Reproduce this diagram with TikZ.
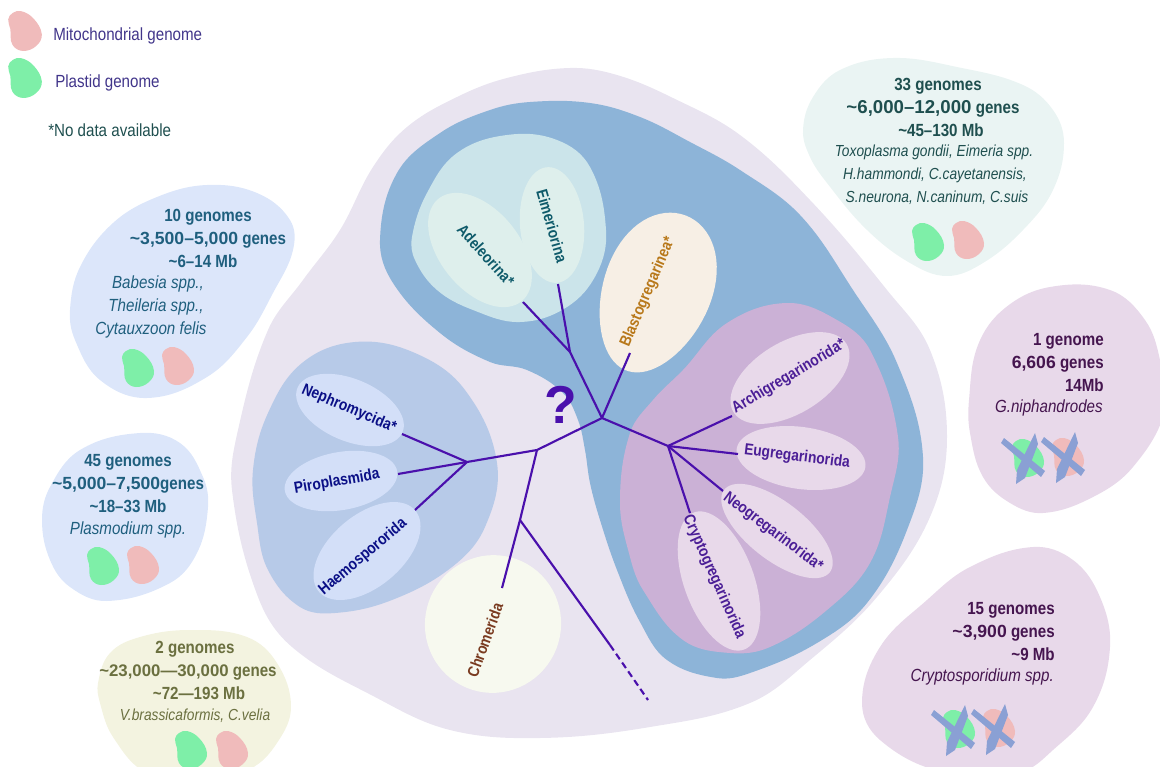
\documentclass[tikz,border=0pt]{standalone}
\usepackage{fontspec}
\setmainfont[FakeStretch=0.86]{Liberation Sans}
\newfontfamily\widefont{Liberation Sans}
\newcommand{\num}[1]{{\widefont\bfseries #1}}
\definecolor{outerc}{HTML}{E9E4F0}
\definecolor{bluec}{HTML}{8DB4D8}
\definecolor{purplec}{HTML}{CBB1D6}
\definecolor{tealc}{HTML}{CBE4EA}
\definecolor{tealin}{HTML}{DEEFEC}
\definecolor{creamc}{HTML}{F7EFE5}
\definecolor{leftc}{HTML}{B7CAE8}
\definecolor{leftin}{HTML}{D3DFF8}
\definecolor{chromc}{HTML}{F7F9EF}
\definecolor{purplein}{HTML}{E8D9EA}
\definecolor{trc}{HTML}{EAF4F3}
\definecolor{lbluec}{HTML}{DCE6FA}
\definecolor{olivec}{HTML}{F3F3E0}
\definecolor{mitoc}{HTML}{F0BBBB}
\definecolor{plastc}{HTML}{7EEFA8}
\definecolor{crossc}{HTML}{8AA0D4}
\definecolor{treec}{HTML}{4A10AC}
\definecolor{ttblue}{HTML}{1F5F7E}
\definecolor{ttolive}{HTML}{6B7040}
\definecolor{ttgreen}{HTML}{1F4F4F}
\definecolor{ttpurple}{HTML}{45154F}
\definecolor{ttlegend}{HTML}{41358A}
\definecolor{lbteal}{HTML}{0E5A6A}
\definecolor{lbgold}{HTML}{B8781A}
\definecolor{lbpurple}{HTML}{4B1E96}
\definecolor{lbnavy}{HTML}{0A0F86}
\definecolor{lbbrown}{HTML}{7A3B20}
\newcount\blobn
\newcommand\myblob[2]{%
  \gdef\xlist{}\gdef\ylist{}\global\blobn=0
  \foreach \p/\q in {#2}{%
    \ifnum\blobn=0 \xdef\xlist{\p}\xdef\ylist{\q}\else\xdef\xlist{\xlist,\p}\xdef\ylist{\ylist,\q}\fi
    \global\advance\blobn by 1 }%
  \xdef\xarr{{\xlist}}\xdef\yarr{{\ylist}}%
  \gdef\blobpath{}%
  \edef\blobtot{\the\blobn}%
  \pgfmathtruncatemacro\blobmax{\blobtot-1}%
  \foreach \i in {0,...,\blobmax}{%
    \pgfmathtruncatemacro\im{mod(\i+\blobtot-1,\blobtot)}%
    \pgfmathtruncatemacro\ip{mod(\i+1,\blobtot)}%
    \pgfmathtruncatemacro\ipp{mod(\i+2,\blobtot)}%
    \pgfmathsetmacro\xa{\xarr[\i]}\pgfmathsetmacro\ya{\yarr[\i]}%
    \pgfmathsetmacro\xb{\xarr[\ip]}\pgfmathsetmacro\yb{\yarr[\ip]}%
    \pgfmathsetmacro\xm{\xarr[\im]}\pgfmathsetmacro\ym{\yarr[\im]}%
    \pgfmathsetmacro\xc{\xarr[\ipp]}\pgfmathsetmacro\yc{\yarr[\ipp]}%
    \pgfmathsetmacro\lenA{veclen(\xb-\xm,\yb-\ym)}%
    \pgfmathsetmacro\lenB{veclen(\xc-\xa,\yc-\ya)}%
    \pgfmathsetmacro\lenS{veclen(\xb-\xa,\yb-\ya)}%
    \pgfmathsetmacro\cax{\xa+0.36*\lenS*(\xb-\xm)/\lenA}%
    \pgfmathsetmacro\cay{\ya+0.36*\lenS*(\yb-\ym)/\lenA}%
    \pgfmathsetmacro\cbx{\xb-0.36*\lenS*(\xc-\xa)/\lenB}%
    \pgfmathsetmacro\cby{\yb-0.36*\lenS*(\yc-\ya)/\lenB}%
    \xdef\blobpath{\blobpath .. controls (\cax,\cay) and (\cbx,\cby) .. (\xb,\yb)}%
  }%
  \pgfmathsetmacro\xs{\xarr[0]}\pgfmathsetmacro\ys{\yarr[0]}%
  \edef\blobcmd{\noexpand\fill[#1] (\xs,\ys) \blobpath -- cycle;}\blobcmd
}
\newcommand\myegg[7]{\fill[#1,shift={(#2,#3)},rotate=#6] plot[domain=0:360,samples=72] ({#4*cos(\x)},{#5*sin(\x)*(1+#7*cos(\x))}) -- cycle;}
\tikzset{
  taxon/.style={font=\bfseries\fontsize{12}{14}\selectfont,text=#1,inner sep=0pt},
  stats/.style={font=\bfseries\fontsize{13.2}{17.25}\selectfont,text=#1,align=center,inner sep=0pt},
  species/.style={font=\itshape\fontsize{13.2}{17.25}\selectfont,text=#1,align=center,inner sep=0pt},
  legendtext/.style={font=\fontsize{13.2}{15}\selectfont,text=#1,inner sep=0pt,anchor=west},
  branch/.style={draw=treec,line width=1.6pt},
  pics/bean/.style={code={\myblob{#1}{-4/-19,8/-12,16/3,11/14,-2/19,-12/13,-14/-2,-16/-11,-12/-17}}},
  pics/nogo/.style={code={\fill[crossc] (-24,-15)--(-21,-20)--(20,13)--(16,19)--cycle;
    \fill[crossc] (10,-25)--(13,-14)--(0,20)--(-9,26)--(-8,12)--cycle;}}
}
\begin{document}
\begin{tikzpicture}[x=0.75pt,y=-0.75pt]
\useasboundingbox (0,0) rectangle (1160,767);
% large regions
\myblob{outerc}{570/68,617/75,673/98,740/135,810/200,887/290,930/350,947/437,930/517,877/597,810/660,750/703,650/727,540/738,450/730,375/697,292/647,258/597,232/490,238/430,268/330,303/280,340/230,373/167,407/127,457/97,507/78}
\myblob{bluec}{530/102,590/103,640/117,690/142,740/170,800/215,853/290,897/363,923/457,907/530,867/603,817/643,750/673,717/678,667/660,640/622,617/570,600/520,590/483,585/450,578/420,563/393,527/370,490/362,440/333,393/283,380/240,397/173,440/133,490/110}
\myblob{purplec}{620/503,630/433,653/400,683/370,727/323,787/303,837/320,870/350,898/437,890/497,870/563,827/610,770/647,730/653,683/640,643/590,630/557}
\myblob{tealc}{412/237,427/193,457/153,507/135,557/140,590/167,606/230,597/273,567/307,520/322,473/310,437/290,415/260}
\myblob{leftc}{253/470,268/413,302/363,355/342,415/353,465/390,497/463,485/527,452/567,392/600,335/613,300/607,268/570,257/523}
% clade blobs
\myegg{tealin}{480}{250}{66}{40}{-51}{0}
\myegg{tealin}{552}{225}{58}{32}{-85}{0}
\myegg{creamc}{656}{293}{83}{54}{69}{.1}
\myegg{chromc}{493}{624}{69}{68}{70}{0}
\myegg{leftin}{350}{410}{57}{31}{-23}{0}
\myegg{leftin}{341}{481}{57}{29}{10}{0}
\myegg{leftin}{367}{551}{63}{36}{40}{0}
\myegg{purplein}{790}{378}{66}{36}{31}{0}
\myegg{purplein}{801}{458}{65}{31}{-8}{0}
\myegg{purplein}{777}{531}{67}{29}{-38}{0}
\myegg{purplein}{719}{581}{73}{35}{-70}{0}
% side blobs
\myblob{trc}{803/130,813/97,840/70,893/58,957/67,1023/85,1053/110,1064/143,1053/190,1023/230,983/263,947/276,910/263,867/230,827/183,810/157}
\myblob{purplein}{969/400,978/345,1005/308,1050/287,1110/290,1145/320,1160/360,1165/410,1133/467,1093/497,1043/513,1010/503,983/477,970/433}
\myblob{purplein}{862/703,880/647,927/600,970/567,1033/547,1073/560,1100/597,1110/647,1093/707,1053/750,1020/772,943/772,880/740}
\myblob{lbluec}{207/185,257/193,290/220,293/250,273/293,247/337,207/377,147/398,100/380,75/340,70/310,80/267,113/223,157/197}
\myblob{lbluec}{42/520,50/487,80/450,140/433,180/443,203/477,208/507,197/553,170/583,107/601,70/587,50/560}
\myblob{olivec}{98/683,110/653,140/637,190/630,247/637,277/663,291/707,277/743,250/769,203/780,147/773,113/737,100/703}
% taxa labels
\node[taxon=lbteal,rotate=-48] (adel) at (486,255) {Adeleorina*};
\node[taxon=lbteal,rotate=-74] (eime) at (552,226) {Eimeriorina};
\node[taxon=lbgold,rotate=67] (blas) at (648,292) {Blastogregarinea*};
\node[taxon=lbpurple,rotate=31] (arch) at (789,377) {Archigregarinorida*};
\node[taxon=lbpurple,rotate=-7] (euge) at (797,457) {Eugregarinorida};
\node[taxon=lbpurple,rotate=-37] (neog) at (773,532) {Neogregarinorida*};
\node[taxon=lbpurple,rotate=-66] (cryp) at (714,577) {Cryptogregarinorida};
\node[taxon=lbnavy,rotate=-23] (neph) at (349,409) {Nephromycida*};
\node[taxon=lbnavy,rotate=10] (piro) at (337,482) {Piroplasmida};
\node[taxon=lbnavy,rotate=40] (haem) at (363,557) {Haemospororida};
\node[taxon=lbbrown,rotate=70] (chro) at (485,640) {Chromerida};
\node[font=\bfseries\fontsize{40}{40}\selectfont,text=treec,inner sep=0pt] (q) at (561,405) {\widefont ?};
% tree
\coordinate (root) at (602,418);
\coordinate (a) at (537,450);
\coordinate (b) at (467,462);
\coordinate (c) at (520,520);
\coordinate (d) at (668,446);
\coordinate (e) at (570,352);
\coordinate (tchro) at (502,588);
\coordinate (tsol) at (610,645);
\coordinate (tdash) at (648,700);
\coordinate (tarch) at (732,416);
\coordinate (teuge) at (738,454);
\coordinate (tneog) at (723,491);
\coordinate (tcryp) at (690,513);
\coordinate (tblas) at (630,353);
\coordinate (teime) at (558,284);
\coordinate (tadel) at (523,302);
\coordinate (tneph) at (402,434);
\coordinate (tpiro) at (398,474);
\coordinate (thaem) at (415,510);
\draw[branch] (tblas)--(root)--(a)--(b);
\draw[branch] (root)--(e)--(teime);
\draw[branch] (e)--(tadel);
\draw[branch] (a)--(c)--(tchro);
\draw[branch] (c)--(tsol);
\draw[branch,dash pattern=on 5pt off 3pt] (tsol)--(tdash);
\draw[branch] (root)--(d)--(tarch);
\draw[branch] (d)--(teuge);
\draw[branch] (d)--(tneog);
\draw[branch] (d)--(tcryp);
\draw[branch] (b)--(tneph);
\draw[branch] (b)--(tpiro);
\draw[branch] (b)--(thaem);
% legend
\pic[scale=1.05] at (25,31) {bean=mitoc};
\pic[scale=1.05] at (25,78) {bean=plastc};
\node[legendtext=ttlegend] (l1) at (53,36) {Mitochondrial genome};
\node[legendtext=ttlegend] (l2) at (55,83) {Plastid genome};
\node[legendtext=ttgreen] (l3) at (48,130) {*No data available};
% info texts
\node[stats=ttblue] (s1) at (208,238) {10 genomes\\\num{\textasciitilde 3,500–5,000} genes\\\textasciitilde 6–14 Mb\hspace*{7.5pt}\mbox{}};
\node[species=ttblue] (p1) at (151,307) {\hspace*{10.5pt}Babesia spp.,\\\hspace*{7.5pt}Theileria spp.,\\Cytauxzoon felis};
\pic at (138,368) {bean=plastc};
\pic at (178,366) {bean=mitoc};
\node[stats=ttblue] (s2) at (128,484) {45 genomes\\\num{\textasciitilde 5,000–7,500}genes\\\textasciitilde 18–33 Mb};
\node[species=ttblue] (p2) at (128,530) {Plasmodium spp.};
\pic at (103,566) {bean=plastc};
\pic at (143,565) {bean=mitoc};
\node[stats=ttolive] (s3) at (188,670) {\hspace*{10.5pt}2 genomes\\{\widefont\bfseries\fontsize{12.6}{17.25}\selectfont \textasciitilde 23,000—30,000} genes\\\hspace*{16.5pt}\textasciitilde 72—193 Mb};
\node[species=ttolive,font=\itshape\fontsize{12}{14}\selectfont] (p3) at (195,716) {V.brassicaformis, C.velia};
\pic at (191,750) {bean=plastc};
\pic at (232,750) {bean=mitoc};
\node[stats=ttgreen] (s4) at (933,107) {\hspace*{7.5pt}33 genomes\\{\widefont\bfseries\fontsize{14}{17.25}\selectfont \textasciitilde 6,000–12,000} genes\\\hspace*{12pt}\textasciitilde 45–130 Mb};
\node[species=ttgreen,font=\itshape\fontsize{12}{17.25}\selectfont] (p4) at (934,175) {Toxoplasma gondii, Eimeria spp.\\\hspace*{1.5pt}H.hammondi, C.cayetanensis,\\\hspace*{4.5pt}S.neurona, N.caninum, C.suis};
\pic at (928,242) {bean=plastc};
\pic at (968,240) {bean=mitoc};
\node[stats=ttpurple,align=right,anchor=north east] (s5) at (1104,333) {1 genome\\\num{6,606} genes\\14Mb};
\node[species=ttpurple,anchor=east] (p5) at (1103,408) {G.niphandrodes};
\pic at (1028,458) {bean=plastc};
\pic at (1068,457) {bean=mitoc};
\pic at (1025,458) {nogo};
\pic at (1065,457) {nogo};
\node[stats=ttpurple,align=right,anchor=north east] (s6) at (1055,602) {15 genomes\\\num{\textasciitilde 3,900} genes\\\textasciitilde 9 Mb};
\node[species=ttpurple,anchor=east] (p6) at (1054,677) {Cryptosporidium spp.};
\pic at (959,729) {bean=plastc};
\pic at (999,728) {bean=mitoc};
\pic at (955,730) {nogo};
\pic at (995,729) {nogo};
\end{tikzpicture}
\end{document}
